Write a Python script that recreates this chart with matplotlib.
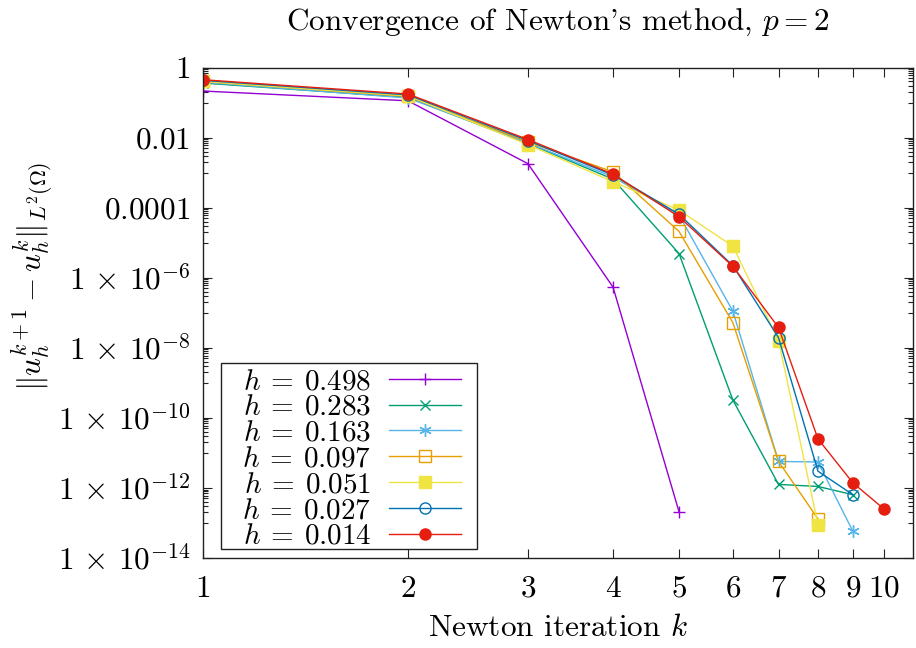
import numpy as np
import matplotlib
matplotlib.use("Agg")
import matplotlib.pyplot as plt
from matplotlib.patches import Rectangle
from matplotlib.ticker import FixedLocator, NullFormatter

# ── Data ──────────────────────────────────────────────────────────────────────
H_VALUES = ["0.498", "0.283", "0.163", "0.097", "0.051", "0.027", "0.014"]

err_h0498 = [0.213, 0.112, 1.8e-3, 5.4e-7, 2.1e-13]
err_h0283 = [0.36, 0.14, 6.8e-3, 6.5e-4, 4.9e-6, 3.2e-10, 1.26e-12, 1.1e-12, 6.4e-13]
err_h0163 = [0.38, 0.135, 7.0e-3, 7.5e-4, 6.2e-5, 1.1e-7, 5.7e-12, 5.5e-12, 5.8e-14]
err_h0097 = [0.40, 0.15, 7.5e-3, 1.05e-3, 2.1e-5, 5.2e-8, 5.7e-12, 1.3e-13]
err_h0051 = [0.40, 0.155, 6.3e-3, 5.5e-4, 8.5e-5, 7.9e-6, 1.6e-8, 9.0e-14]
err_h0027 = [0.43, 0.165, 8.2e-3, 8.5e-4, 6.5e-5, 2.2e-6, 1.95e-8, 3.0e-12, 6.4e-13]
err_h0014 = [0.448, 0.175, 8.8e-3, 9.05e-4, 5.5e-5, 2.1e-6, 3.8e-8, 2.5e-11, 1.4e-12, 2.5e-13]

SERIES = [err_h0498, err_h0283, err_h0163, err_h0097, err_h0051, err_h0027, err_h0014]

X_TICKS = [1, 2, 3, 4, 5, 6, 7, 8, 9, 10]
Y_MAJOR = [1.0, 1e-2, 1e-4, 1e-6, 1e-8, 1e-10, 1e-12, 1e-14]
Y_LABELS = ["$1$", "$0.01$", "$0.0001$", r"$1\,\times\,10^{-6}$", r"$1\,\times\,10^{-8}$",
            r"$1\,\times\,10^{-10}$", r"$1\,\times\,10^{-12}$", r"$1\,\times\,10^{-14}$"]

# ── Style (gnuplot-ish) ───────────────────────────────────────────────────────
COLORS  = ["#9400D3", "#009E73", "#56B4E9", "#E69F00", "#F0E442", "#0072B2", "#E51E10"]
MARKERS = [dict(marker="+", ms=9, mfc="none"),
           dict(marker="x", ms=7, mfc="none"),
           dict(marker=(6, 2, 0), ms=9, mfc="none"),
           dict(marker="s", ms=8, mfc="none"),
           dict(marker="s", ms=8),
           dict(marker="o", ms=8, mfc="none"),
           dict(marker="o", ms=8)]

plt.rcParams["font.family"] = "serif"
plt.rcParams["font.serif"] = ["cmr10"]
plt.rcParams["mathtext.fontset"] = "cm"
plt.rcParams["axes.formatter.use_mathtext"] = True

FS = 22.5
W, H = 916, 648
AX_L, AX_R, AX_T, AX_B = 203, 913, 67.5, 558   # axes frame in pixels
AX_W, AX_H = AX_R - AX_L, AX_B - AX_T

fig = plt.figure(figsize=(W / 100, H / 100), dpi=100)
ax = fig.add_axes([AX_L / W, 1 - AX_B / H, AX_W / W, AX_H / H])

for vals, hv, col, mk in zip(SERIES, H_VALUES, COLORS, MARKERS):
    k = np.arange(1, len(vals) + 1)
    ax.plot(k, vals, color=col, lw=1.0, mec=col, mew=1.0,
            label=rf"$h\:=\:{hv}$", **mk)

ax.set_xscale("log")
ax.set_yscale("log")
ax.set_xlim(1, 11.03)
ax.set_ylim(1e-14, 1)

ax.xaxis.set_major_locator(FixedLocator(X_TICKS))
ax.set_xticklabels([f"${t}$" for t in X_TICKS])
ax.xaxis.set_minor_locator(FixedLocator([]))
ax.yaxis.set_major_locator(FixedLocator(Y_MAJOR))
ax.set_yticklabels(Y_LABELS)
minor_y = [j * 10.0 ** (-2 * m - 1) for m in range(7) for j in range(1, 10)]
ax.yaxis.set_minor_locator(FixedLocator(minor_y))
ax.yaxis.set_minor_formatter(NullFormatter())

ax.tick_params(which="both", direction="in", top=True, right=True,
               labelsize=FS, width=0.8, color="#222222")
ax.tick_params(which="major", length=6.5)
ax.tick_params(which="minor", length=3.3)
ax.tick_params(axis="x", which="major", pad=12)
ax.tick_params(axis="y", which="major", pad=9)
for sp in ax.spines.values():
    sp.set_linewidth(1.0)
    sp.set_color("#222222")

ax.set_xlabel("Newton iteration $k$", fontsize=FS)
ax.xaxis.set_label_coords(0.5, (AX_B - 628) / AX_H)
ax.xaxis.label.set_va("center")
ax.set_ylabel(r"$\|u_h^{k+1} - u_h^k\|_{L^2(\Omega)}$", fontsize=FS)
ax.yaxis.set_label_coords((32 - AX_L) / AX_W, (AX_B - 276) / AX_H)
ax.yaxis.label.set_va("center")
fig.text((AX_L + AX_R) / 2 / W, 1 - 22 / H, "Convergence of Newton's method, $p = 2$",
         fontsize=FS, ha="center", va="center")

# legend: gnuplot-style box (wide side padding, none top/bottom)
box = Rectangle(((221 - AX_L) / AX_W, (AX_B - 549) / AX_H), 256 / AX_W, 186 / AX_H,
                transform=ax.transAxes, facecolor="white", edgecolor="#222222",
                linewidth=1.0, zorder=4.5)
ax.add_patch(box)
leg = ax.legend(loc="lower left", bbox_to_anchor=((242 - AX_L) / AX_W, (AX_B - 550) / AX_H),
                borderaxespad=0, fontsize=21, markerfirst=False, handlelength=2.5,
                handletextpad=0.6, labelspacing=-0.02, borderpad=0.0, frameon=False)
leg.set_zorder(5)

fig.savefig("out.png", dpi=100)
